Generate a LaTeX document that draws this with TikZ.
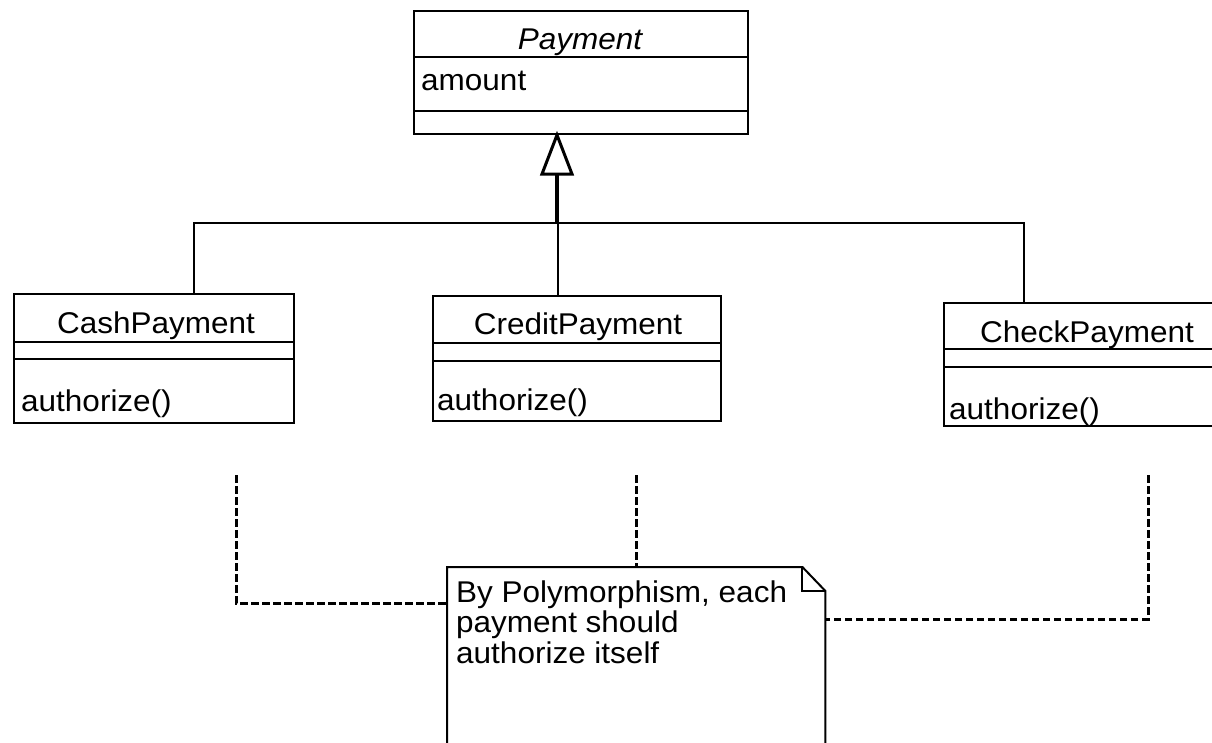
\documentclass[tikz,border=0pt]{standalone}
\usepackage{fontspec}
\setmainfont{Liberation Sans}[FakeStretch=1.05]
\newcommand\umlfont{\fontsize{30}{30.5}\selectfont}

\begin{document}
\begin{tikzpicture}[x=1pt,y=-1pt,
  classbox/.style={draw, line width=2pt, inner sep=0pt, anchor=north west},
  compartment/.style={line width=2pt},
  lbl/.style={inner sep=0pt, font=\umlfont},
  link/.style={line width=2pt},
  trunk/.style={line width=4pt},
  hollowtip/.style={line width=3pt, fill=white, line join=miter},
  dep/.style={line width=3pt, dash pattern=on 7.5pt off 3.5pt},
]
\useasboundingbox (0,0) rectangle (1212,742);
\fill[white] (0,0) rectangle (1212,742);
\clip (0,0) rectangle (1212,742);

% superclass
\node[classbox, minimum width=334pt, minimum height=123pt] (pay) at (413,10) {};
\draw[compartment] ([yshift=-47pt]pay.north west) -- ([yshift=-47pt]pay.north east);
\draw[compartment] ([yshift=-101pt]pay.north west) -- ([yshift=-101pt]pay.north east);
\node[lbl, anchor=base, font=\umlfont\itshape] (payname) at (580,49) {Payment};
\node[lbl, anchor=base west] (payattr) at (421,90) {amount};

% subclasses
\node[classbox, minimum width=280pt, minimum height=129pt] (cash) at (13,293) {};
\draw[compartment] ([yshift=-49pt]cash.north west) -- ([yshift=-49pt]cash.north east);
\draw[compartment] ([yshift=-66pt]cash.north west) -- ([yshift=-66pt]cash.north east);
\node[lbl, anchor=base] (cashname) at (156,333) {CashPayment};
\node[lbl, anchor=base west] (cashop) at (21,411) {authorize()};

\node[classbox, minimum width=288pt, minimum height=125pt] (credit) at (432,295) {};
\draw[compartment] ([yshift=-48pt]credit.north west) -- ([yshift=-48pt]credit.north east);
\draw[compartment] ([yshift=-66pt]credit.north west) -- ([yshift=-66pt]credit.north east);
\node[lbl, anchor=base] (creditname) at (578,334) {CreditPayment};
\node[lbl, anchor=base west] (creditop) at (437,410) {authorize()};

\node[classbox, minimum width=288pt, minimum height=123pt] (check) at (943,302) {};
\draw[compartment] ([yshift=-47pt]check.north west) -- ([yshift=-47pt]check.north east);
\draw[compartment] ([yshift=-65pt]check.north west) -- ([yshift=-65pt]check.north east);
\node[lbl, anchor=base] (checkname) at (1087,342) {CheckPayment};
\node[lbl, anchor=base west] (checkop) at (949,419) {authorize()};

% generalization
\coordinate (tip) at ([xshift=144pt]pay.south west);
\coordinate (bus) at (557,223);
\draw[trunk] (tip) ++(0,39) -- (bus);
\draw[hollowtip] (tip) -- ++(-15,39) -- ++(30,0) -- cycle;
\draw[link] ([xshift=181pt]cash.north west) |- (bus) -| ([xshift=81pt]check.north west);
\draw[link] ([xshift=126pt]credit.north west) -- ([xshift=126pt]credit.north west |- bus);

% note
\node[inner sep=0pt, minimum width=378pt, minimum height=193pt, anchor=north west] (note) at (447,567) {};
\draw[line width=2pt, line join=miter] (note.north west) -- ([xshift=-23pt]note.north east)
  -- ([yshift=-24pt]note.north east) -- (note.south east) -- (note.south west) -- cycle;
\draw[line width=2pt] ([xshift=-23pt]note.north east) |- ([yshift=-24pt]note.north east);
% multi-line node: base anchor sits on the last line
\node[lbl, anchor=base west, align=left] (notetext) at (456,663)
  {By Polymorphism, each\\payment should\\authorize itself};

% note anchors
\coordinate (d1) at (236,475);
\coordinate (d2) at (636,475);
\coordinate (d3) at (1148,475);
\draw[dep] (d1) |- ([yshift=-36pt]note.north west);
\draw[dep] (d2) -- (d2 |- note.north);
\draw[dep] (d3) |- ([yshift=-52pt]note.north east);
\end{tikzpicture}
\end{document}
